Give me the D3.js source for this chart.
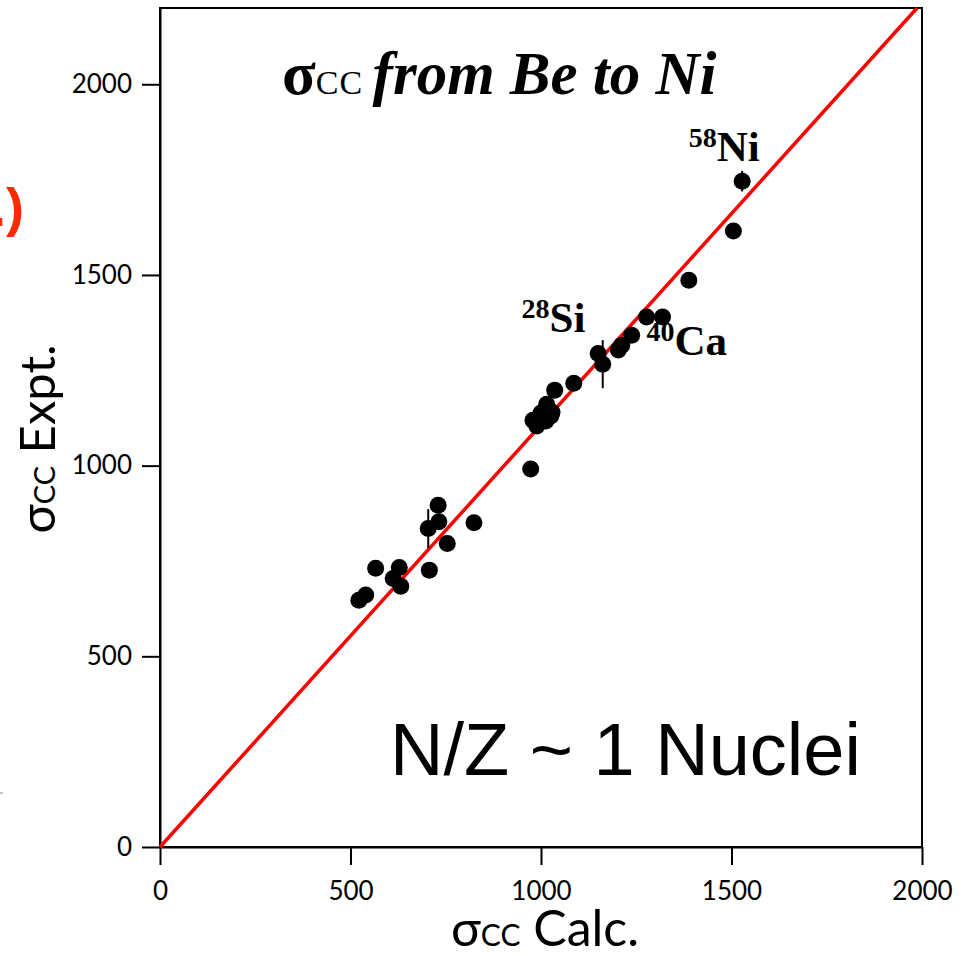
<!DOCTYPE html>
<html>
<head>
<meta charset="utf-8">
<script src="https://cdn.jsdelivr.net/npm/d3@7"></script>
<style>
    body { margin: 0; background: #fff; }
    .axis text { font-family: Lato, "Open Sans", sans-serif; font-size: 26px; fill: #000; }
    .axis path, .axis line { stroke: #000; stroke-width: 2; }
</style>
</head>
<body>
<div id="chart"></div>
<script>
const calc = [522, 540, 566, 612, 628, 632, 707, 704, 730, 732, 754, 824,
    973, 979, 989, 1000, 1015, 1026, 1013, 1036, 1029, 1086,
    1150, 1162, 1203, 1212, 1238, 1277, 1319, 1388, 1505, 1528];
const expt = [647, 661, 731, 704, 733, 684, 726, 835, 896, 853, 796, 850,
    991, 1119, 1104, 1138, 1161, 1130, 1117, 1198, 1140, 1216,
    1294, 1266, 1303, 1316, 1342, 1390, 1390, 1486, 1615, 1746];
const exptErr = [0, 0, 0, 0, 0, 0, 0, 51, 0, 0, 0, 0,
    0, 0, 0, 0, 0, 0, 0, 0, 0, 0,
    18, 63, 0, 20, 20, 0, 0, 0, 0, 27];

// red line through the origin
const fitCalc = [0, 1987];
const fitExpt = [0, 2200];

const xTicks = [0, 500, 1000, 1500, 2000];
const yTicks = [0, 500, 1000, 1500, 2000];

const nucleusMass = ["58", "28", "40"];
const nucleusSymbol = ["Ni", "Si", "Ca"];
const nucleusCalc = [1388, 949, 1277];
const nucleusExpt = [1799, 1351, 1290];

const margin = {top: 8, right: 46, bottom: 109, left: 160};
const width = 968 - margin.left - margin.right;
const height = 956 - margin.top - margin.bottom;

const x = d3.scaleLinear()
    .domain([0, 2000])
    .range([0, width]);

const y = d3.scaleLinear()
    .domain([0, 2200])
    .range([height, 0]);

const root = d3.select("#chart").append("svg")
    .attr("width", 968)
    .attr("height", 956);

// clipped red text sitting at the page edge
root.append("text")
    .attr("x", 24)
    .attr("y", 226)
    .attr("text-anchor", "end")
    .attr("fill", "#ff2a00")
    .style("font-family", "Liberation Sans, sans-serif")
    .style("font-weight", "bold")
    .style("font-size", "54px")
    .text(".)");

root.append("line")
    .attr("x1", 0).attr("x2", 3)
    .attr("y1", 793).attr("y2", 793)
    .attr("stroke", "#888")
    .attr("stroke-width", 1);

const svg = root.append("g")
    .attr("transform", "translate(" + margin.left + "," + margin.top + ")");

svg.append("rect")
    .attr("width", width)
    .attr("height", height)
    .attr("fill", "none")
    .attr("stroke", "#000")
    .attr("stroke-width", 2);

svg.append("g")
    .attr("class", "x axis")
    .attr("transform", "translate(0," + height + ")")
    .call(d3.axisBottom(x).tickValues(xTicks).tickFormat(d3.format("d"))
        .tickSize(18).tickSizeOuter(0).tickPadding(17));

svg.append("g")
    .attr("class", "y axis")
    .call(d3.axisLeft(y).tickValues(yTicks).tickFormat(d3.format("d"))
        .tickSize(18).tickSizeOuter(0).tickPadding(10));

svg.append("line")
    .attr("x1", x(fitCalc[0]))
    .attr("y1", y(fitExpt[0]))
    .attr("x2", x(fitCalc[1]))
    .attr("y2", y(fitExpt[1]))
    .attr("stroke", "#ff0000")
    .attr("stroke-width", 3.5);

const idx = d3.range(calc.length);

svg.append("g")
    .selectAll("line")
    .data(idx.filter(i => exptErr[i] > 0))
    .join("line")
    .attr("x1", i => x(calc[i]))
    .attr("x2", i => x(calc[i]))
    .attr("y1", i => y(expt[i] - exptErr[i]))
    .attr("y2", i => y(expt[i] + exptErr[i]))
    .attr("stroke", "#000")
    .attr("stroke-width", 2);

svg.append("g")
    .selectAll("circle")
    .data(idx)
    .join("circle")
    .attr("cx", i => x(calc[i]))
    .attr("cy", i => y(expt[i]))
    .attr("r", 8.5)
    .attr("fill", "#000");

// nucleus labels
const labels = svg.append("g")
    .selectAll("text")
    .data(d3.range(nucleusMass.length))
    .join("text")
    .attr("x", i => x(nucleusCalc[i]))
    .attr("y", i => y(nucleusExpt[i]))
    .style("font-family", "Liberation Serif, serif")
    .style("font-weight", "bold");

labels.append("tspan")
    .attr("dy", -14)
    .style("font-size", "28px")
    .text(i => nucleusMass[i]);

labels.append("tspan")
    .attr("dy", 14)
    .style("font-size", "43px")
    .text(i => nucleusSymbol[i]);

// title
const title = svg.append("text")
    .attr("x", 282 - margin.left)
    .attr("y", 94 - margin.top)
    .style("font-family", "Liberation Serif, serif")
    .style("font-weight", "bold");

title.append("tspan")
    .style("font-size", "62px")
    .text("σ");
title.append("tspan")
    .style("font-size", "34px")
    .style("font-weight", "normal")
    .style("letter-spacing", "1px")
    .text("CC ");
title.append("tspan")
    .style("font-size", "61px")
    .style("font-style", "italic")
    .text("from Be to Ni");

svg.append("text")
    .attr("x", 390 - margin.left)
    .attr("y", 775 - margin.top)
    .style("font-family", "Liberation Sans, sans-serif")
    .style("font-size", "74px")
    .text("N/Z ~ 1 Nuclei");

// axis titles
const xTitle = svg.append("text")
    .attr("x", width / 2 + 4)
    .attr("y", height + 99)
    .attr("text-anchor", "middle")
    .style("font-family", "Lato, sans-serif");

xTitle.append("tspan").style("font-size", "50px").text("σ");
xTitle.append("tspan").style("font-size", "30px").text("CC");
xTitle.append("tspan").style("font-size", "50px").text(" Calc.");

const yTitle = svg.append("text")
    .attr("transform", "translate(-105," + (439 - margin.top) + ") rotate(-90)")
    .attr("text-anchor", "middle")
    .style("font-family", "Lato, sans-serif");

yTitle.append("tspan").style("font-size", "49px").text("σ");
yTitle.append("tspan").style("font-size", "29px").text("CC");
yTitle.append("tspan").style("font-size", "49px").text(" Expt.");
</script>
</body>
</html>
